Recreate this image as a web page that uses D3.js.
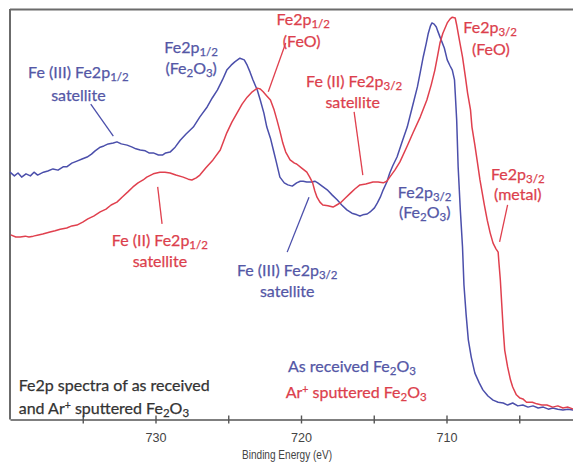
<!DOCTYPE html>
<html><head><meta charset="utf-8">
<script src="https://cdn.jsdelivr.net/npm/d3@7"></script>
<style>
html,body{margin:0;padding:0;background:#fff;}
svg{display:block;}
.ann{font-family:Lato,"Open Sans",sans-serif;}
.ax{font-family:"Liberation Sans Narrow","Liberation Sans",Arial,sans-serif;fill:#444;}
</style></head>
<body>
<script>
// Binding energy (eV), intensity (arb. units)
const blueBE = [740.0,739.7,739.45,739.2,738.9,738.6,738.35,738.1,737.7,737.4,737.05,736.7,736.35,736.1,735.75,735.4,735.05,734.7,734.4,734.15,733.8,733.55,733.25,732.9,732.65,732.35,731.95,731.6,731.35,731.05,730.7,730.45,730.15,729.8,729.5,729.3,729.0,728.65,728.3,727.9,727.4,726.95,726.45,726.1,725.75,725.4,725.1,724.8,724.55,724.2,723.9,723.7,723.5,723.3,723.0,722.8,722.55,722.35,722.1,721.9,721.7,721.45,721.15,720.9,720.6,720.3,720.05,719.85,719.6,719.25,719.05,718.85,718.55,718.2,717.85,717.5,717.2,716.85,716.5,716.15,715.95,715.75,715.45,715.25,714.95,714.75,714.55,714.35,714.1,713.9,713.7,713.4,713.05,712.7,712.35,712.0,711.8,711.6,711.4,711.25,711.1,711.0,710.85,710.7,710.6,710.45,710.15,709.95,709.75,709.6,709.45,709.4,709.3,709.2,709.05,708.9,708.8,708.65,708.5,708.3,708.05,707.75,707.5,707.15,706.8,706.45,706.1,705.8,705.45,705.1,704.75,704.4,704.05,703.7,703.35,703.0,702.7,702.35,702.0,701.65,701.3];
const blueI = [60.2,59.3,60.0,59.0,59.8,59.3,60.2,59.5,60.2,60.5,61.0,60.7,61.5,61.5,62.4,62.9,63.4,63.9,64.6,65.4,66.3,66.6,67.1,67.3,67.6,67.1,66.8,66.3,65.9,65.6,65.4,64.9,64.9,64.4,64.4,64.9,65.1,66.3,68.0,69.5,71.2,73.7,76.1,78.3,80.2,82.7,85.1,86.3,87.1,88.0,87.6,86.3,84.6,82.7,80.2,77.8,74.6,71.2,68.5,65.6,62.7,59.0,57.6,57.1,56.8,57.6,58.0,58.0,57.8,57.8,58.0,57.6,56.8,55.9,54.6,53.4,52.2,51.0,50.2,49.8,49.5,49.8,50.0,50.5,51.5,52.7,54.1,55.9,57.8,60.0,61.7,63.9,67.6,71.2,76.1,81.0,84.6,88.3,91.5,94.1,95.9,96.6,96.3,95.6,94.6,93.2,90.5,87.6,86.1,85.1,82.7,79.5,72.9,61.5,51.0,42.0,32.7,25.4,19.3,15.1,11.2,8.8,7.1,5.6,4.6,4.1,3.9,3.4,3.9,3.2,3.4,2.9,3.2,2.7,2.9,2.4,2.7,2.4,2.2,2.4,2.2];
const redBE = [739.95,739.6,739.3,738.95,738.7,738.4,738.05,737.75,737.25,736.9,736.55,736.1,735.75,735.4,735.0,734.65,734.25,733.8,733.4,733.05,732.65,732.3,731.9,731.55,731.2,730.85,730.6,730.15,729.7,729.35,729.0,728.6,728.1,727.75,727.5,727.2,726.95,726.55,726.05,725.55,725.1,724.75,724.4,724.05,723.7,723.35,723.0,722.8,722.6,722.35,722.1,721.85,721.65,721.45,721.25,721.05,720.75,720.45,720.3,719.95,719.6,719.4,719.2,719.05,718.9,718.7,718.5,718.15,717.8,717.55,717.3,716.95,716.6,716.3,715.95,715.55,715.05,714.7,714.35,714.1,713.9,713.55,713.2,712.7,712.3,711.8,711.35,711.05,710.8,710.6,710.45,710.25,709.95,709.75,709.6,709.4,709.3,709.2,709.05,708.9,708.7,708.55,708.35,708.25,708.05,707.9,707.7,707.4,707.2,707.0,706.8,706.6,706.45,706.4,706.3,706.2,706.1,706.0,705.8,705.6,705.45,705.2,704.95,704.75,704.5,704.1,703.8,703.45,703.1,702.7,702.35,702.0,701.65,701.3];
const redI = [44.9,44.4,44.4,44.6,44.4,44.6,44.9,45.1,45.6,45.9,46.3,46.6,47.1,47.3,48.0,48.8,49.5,50.5,51.2,52.2,52.9,54.1,55.4,56.6,57.6,58.3,59.0,59.8,60.2,60.2,60.0,59.5,59.0,58.5,58.3,58.8,59.5,61.2,63.2,65.6,69.8,72.4,74.6,76.8,78.5,79.8,80.7,80.5,79.8,78.8,77.8,75.4,72.9,70.2,67.3,65.1,63.2,62.4,62.2,61.2,60.2,59.0,57.6,55.6,54.1,52.9,52.2,52.0,51.7,52.2,52.7,53.9,55.1,56.1,57.1,57.3,57.8,57.8,57.6,58.0,59.0,60.7,62.7,66.6,69.8,73.7,77.8,81.5,85.1,88.8,91.7,94.1,96.6,97.6,98.0,97.8,96.1,94.1,91.2,88.3,83.4,79.5,75.4,71.2,66.8,63.2,58.3,52.2,48.5,45.4,42.9,41.5,40.7,38.3,33.9,27.8,21.7,16.8,12.7,9.5,7.8,5.9,5.1,4.9,4.1,4.1,3.7,3.4,3.4,2.9,3.2,2.7,2.9,2.4];
const xTicks = [735,730,725,720,715,710,705,700];
const xTickLabels = ["","730","","720","","710","",""];
const xTitle = "Binding Energy (eV)";
const BLUE = "#4b4fab", RED = "#e0404e", BLUE_T = "#5457a6", RED_T = "#dc3f4d";

// annotation texts: [BE, intensity, parts, colour, anchor]
// parts: [text, kind] kind 0 normal, 1 subscript, 2 superscript
const labels = [
  [735.3,83.2,[["Fe (III) Fe2p",0],["1/2",1]],BLUE_T,"middle"],
  [735.3,77.6,[["satellite",0]],BLUE_T,"middle"],
  [727.55,89.3,[["Fe2p",0],["1/2",1]],BLUE_T,"middle"],
  [727.55,84.1,[["(Fe",0],["2",1],["O",0],["3",1],[")",0]],BLUE_T,"middle"],
  [711.5,53.9,[["Fe2p",0],["3/2",1]],BLUE_T,"middle"],
  [711.5,49.0,[["(Fe",0],["2",1],["O",0],["3",1],[")",0]],BLUE_T,"middle"],
  [720.95,35.0,[["Fe (III) Fe2p",0],["3/2",1]],BLUE_T,"middle"],
  [720.95,29.8,[["satellite",0]],BLUE_T,"middle"],
  [720.9,11.5,[["As received Fe",0],["2",1],["O",0],["3",1]],BLUE_T,"start"],
  [719.85,96.1,[["Fe2p",0],["1/2",1]],RED_T,"middle"],
  [719.95,90.7,[["(FeO)",0]],RED_T,"middle"],
  [716.35,81.0,[["Fe (II) Fe2p",0],["3/2",1]],RED_T,"middle"],
  [716.45,75.8,[["satellite",0]],RED_T,"middle"],
  [707.0,94.1,[["Fe2p",0],["3/2",1]],RED_T,"middle"],
  [706.95,88.8,[["(FeO)",0]],RED_T,"middle"],
  [705.1,58.3,[["Fe2p",0],["3/2",1]],RED_T,"middle"],
  [705.1,53.4,[["(metal)",0]],RED_T,"middle"],
  [729.7,42.2,[["Fe (II) Fe2p",0],["1/2",1]],RED_T,"middle"],
  [729.7,37.0,[["satellite",0]],RED_T,"middle"],
  [721.05,5.1,[["Ar",0],["+",2],[" sputtered Fe",0],["2",1],["O",0],["3",1]],RED_T,"start"],
  [739.4,6.8,[["Fe2p spectra of as received",0]],"#333","start"],
  [739.4,1.2,[["and Ar",0],["+",2],[" sputtered  Fe",0],["2",1],["O",0],["3",1]],"#333","start"]
];
// leader lines: [BE1, I1, BE2, I2, colour]
const leaders = [
  [734.45,76.8,732.9,69.0,BLUE],
  [719.45,54.1,720.95,40.7,BLUE],
  [721.05,91.7,722.25,79.8,RED],
  [716.35,74.9,715.75,59.5,RED],
  [705.8,52.2,706.35,43.2,RED],
  [729.85,56.6,729.55,47.6,RED]
];

const W = 573, H = 464;
const svg = d3.select("body").append("svg").attr("width",W).attr("height",H);
const x = d3.scaleLinear().domain([740,700]).range([10,592]);
const y = d3.scaleLinear().domain([0,100]).range([419,9]);

// frame (top and left)
svg.append("line").attr("x1",10).attr("x2",W).attr("y1",9.5).attr("y2",9.5).attr("stroke","#6b6b6b").attr("stroke-width",2);
svg.append("line").attr("x1",10).attr("x2",10).attr("y1",9).attr("y2",419.5).attr("stroke","#6b6b6b").attr("stroke-width",2);

const line = d3.line().x(d=>x(d[0])).y(d=>y(d[1])).curve(d3.curveLinear);
const blue = blueBE.map((b,i)=>[b,blueI[i]]);
const red = redBE.map((b,i)=>[b,redI[i]]);
svg.append("path").datum(blue).attr("d",line).attr("fill","none").attr("stroke",BLUE).attr("stroke-width",1.5).attr("stroke-linejoin","round");
svg.append("path").datum(red).attr("d",line).attr("fill","none").attr("stroke",RED).attr("stroke-width",1.5).attr("stroke-linejoin","round");

// x axis
const ax = svg.append("g").attr("transform","translate(0,419.5)")
  .call(d3.axisBottom(x).tickValues(xTicks).tickFormat((d,i)=>xTickLabels[i]).tickSizeInner(4).tickSizeOuter(0));
ax.select(".domain").attr("stroke","#555").attr("stroke-width",1.6);
ax.selectAll(".tick line").attr("stroke","#555").attr("stroke-width",1.4).attr("y1",-4).attr("y2",4);
ax.selectAll(".tick text").attr("class","ax").attr("font-size",12.5).attr("dy","1.2em").attr("fill","#444")
  .attr("textLength",d=>xTickLabels[xTicks.indexOf(d)]?21:null).attr("lengthAdjust","spacingAndGlyphs");
svg.append("text").attr("class","ax").attr("x",287).attr("y",459).attr("text-anchor","middle").attr("font-size",12.5)
  .attr("textLength",90).attr("lengthAdjust","spacingAndGlyphs").text(xTitle);

// leaders
svg.selectAll(".leader").data(leaders).enter().append("line")
  .attr("x1",d=>x(d[0])).attr("y1",d=>y(d[1])).attr("x2",d=>x(d[2])).attr("y2",d=>y(d[3]))
  .attr("stroke",d=>d[4]).attr("stroke-width",1.3);

// labels
const FS = 16, SUB = 11.5;
labels.forEach(l=>{
  const t = svg.append("text").attr("class","ann").attr("x",x(l[0])).attr("y",y(l[1]))
    .attr("text-anchor",l[4]).attr("fill",l[3]).attr("font-size",FS)
    .attr("stroke",l[3]).attr("stroke-width",0.25);
  let cur = 0;
  l[2].forEach(p=>{
    const ts = t.append("tspan").text(p[0]);
    let target = 0;
    if(p[1]===1){ ts.attr("font-size",SUB); target = 3; }
    else if(p[1]===2){ ts.attr("font-size",SUB-1); target = -5; }
    ts.attr("dy", target-cur); cur = target;
  });
});
</script>
</body></html>
